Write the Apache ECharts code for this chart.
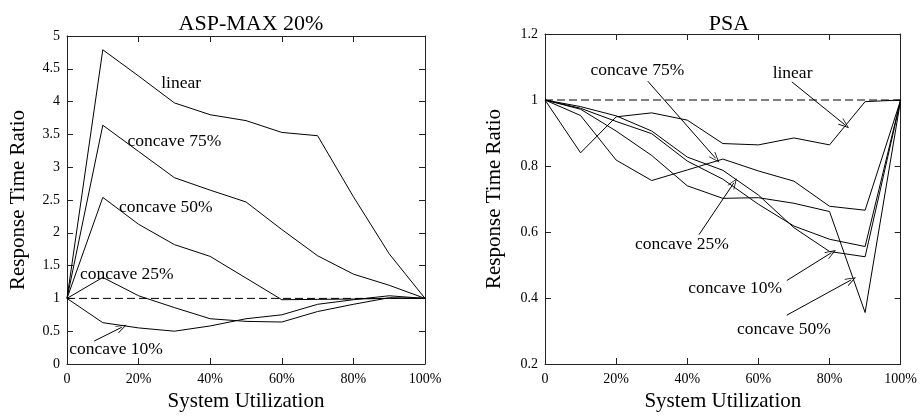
<!DOCTYPE html>
<html>
<head>
<meta charset="utf-8">
<script src="https://cdn.jsdelivr.net/npm/echarts@6/dist/echarts.min.js"></script>
<style>
html,body{margin:0;padding:0;background:#fff;}
#c{width:920px;height:417px;}
</style>
</head>
<body>
<div id="c"></div>
<script>
// ---------- data ----------
const utilization = [0, 10, 20, 30, 40, 50, 60, 70, 80, 90, 100];

// ASP-MAX 20%
const aspLinear = [1, 4.79, 4.39, 3.98, 3.80, 3.71, 3.53, 3.48, 2.55, 1.68, 1.0];
const aspConcave75 = [1, 3.64, 3.24, 2.84, 2.65, 2.47, 2.05, 1.65, 1.37, 1.20, 1.0];
const aspConcave50 = [1, 2.54, 2.13, 1.82, 1.64, 1.31, 0.98, 0.985, 0.99, 1.0, 1.0];
const aspConcave25 = [1, 1.32, 1.04, 0.86, 0.69, 0.65, 0.64, 0.80, 0.91, 1.01, 1.0];
const aspConcave10 = [1, 0.63, 0.55, 0.50, 0.58, 0.69, 0.75, 0.91, 0.98, 1.04, 1.0];

// PSA
const psaLinear = [1, 0.84, 0.949, 0.961, 0.939, 0.868, 0.864, 0.885, 0.864, 0.995, 1.0];
const psaConcave75 = [1, 0.953, 0.818, 0.756, 0.788, 0.821, 0.785, 0.754, 0.678, 0.666, 1.0];
const psaConcave50 = [1, 0.972, 0.906, 0.832, 0.740, 0.702, 0.704, 0.687, 0.662, 0.356, 1.0];
const psaConcave25 = [1, 0.975, 0.935, 0.898, 0.815, 0.760, 0.684, 0.618, 0.578, 0.556, 1.0];
const psaConcave10 = [1, 0.98, 0.952, 0.906, 0.827, 0.787, 0.712, 0.613, 0.541, 0.525, 1.0];

// reference line y = 1
const refX = [0, 100];
const refY = [1, 1];

// annotation labels (text, x, y) in data units
const aspLabelText = ['linear', 'concave 75%', 'concave 50%', 'concave 25%', 'concave 10%'];
const aspLabelX = [26.3, 16.9, 14.5, 3.6, 0.6];
const aspLabelY = [4.27, 3.40, 2.38, 1.36, 0.22];
// arrows (from -> to) in data units
const aspArrowFrom = [[7.6, 0.35]];
const aspArrowTo = [[15.3, 0.56]];

const psaLabelText = ['concave 75%', 'linear', 'concave 25%', 'concave 10%', 'concave 50%'];
const psaLabelX = [12.8, 64.0, 25.3, 40.3, 54.0];
const psaLabelY = [1.09, 1.081, 0.561, 0.43, 0.304];
const psaArrowFrom = [[69.4, 1.055], [28.9, 1.057], [43.3, 0.592], [68.0, 0.453], [68.0, 0.348]];
const psaArrowTo = [[84.3, 0.925], [48.0, 0.823], [53.1, 0.749], [80.5, 0.537], [86.1, 0.455]];

// ---------- chart ----------
const FONT = 'Liberation Serif';
const AXC = '#222';
const TICK = 6;

function pairs(xs, ys) { return xs.map((x, i) => [x, ys[i]]); }

function lineSeries(values, gi) {
  return {
    type: 'line', xAxisIndex: gi * 2, yAxisIndex: gi * 2,
    data: pairs(utilization, values), symbol: 'none', silent: true,
    lineStyle: { color: '#000', width: 1 }
  };
}

function refSeries(gi, arrowFrom, arrowTo) {
  return {
    type: 'line', xAxisIndex: gi * 2, yAxisIndex: gi * 2,
    data: pairs(refX, refY), symbol: 'none', silent: true,
    lineStyle: { color: '#000', width: 1, type: [8, 4] },
    markLine: {
      silent: true,
      symbol: ['none', 'path://M5,0 L10,10 L9,10 L5,2 L1,10 L0,10 Z'],
      symbolSize: [8, 11],
      label: { show: false },
      lineStyle: { color: '#000', width: 1, type: 'solid' },
      data: arrowFrom.map((f, i) => [{ coord: f }, { coord: arrowTo[i] }])
    }
  };
}

function labelSeries(gi, texts, xs, ys) {
  return {
    type: 'scatter', xAxisIndex: gi * 2, yAxisIndex: gi * 2,
    symbolSize: 0, silent: true,
    itemStyle: { opacity: 1, color: '#000' },
    data: texts.map((t, i) => ({ value: [xs[i], ys[i]], name: t })),
    label: {
      show: true, position: 'right', distance: 0,
      formatter: p => p.name,
      fontFamily: FONT, fontSize: 17.5, color: '#000', opacity: 1
    }
  };
}

function xAxes(gi) {
  const base = {
    gridIndex: gi, type: 'value', min: 0, max: 100, interval: 20,
    axisLine: { show: true, onZero: false, lineStyle: { color: AXC, width: 1 } },
    axisTick: { show: true, inside: true, length: TICK, lineStyle: { color: AXC } },
    splitLine: { show: false }
  };
  return [
    Object.assign({}, base, {
      position: 'bottom',
      axisLabel: {
        fontFamily: FONT, fontSize: 14, color: '#000', margin: 8,
        formatter: v => (v === 0 ? '0' : v + '%')
      },
      name: 'System Utilization', nameLocation: 'middle', nameGap: 27,
      nameTextStyle: { fontFamily: FONT, fontSize: 21, color: '#000' }
    }),
    Object.assign({}, base, { position: 'top', axisLabel: { show: false } })
  ];
}

function yAxes(gi, min, max, interval, fmt, gap) {
  const base = {
    gridIndex: gi, type: 'value', min: min, max: max, interval: interval,
    axisLine: { show: true, onZero: false, lineStyle: { color: AXC, width: 1 } },
    axisTick: { show: true, inside: true, length: TICK, lineStyle: { color: AXC } },
    splitLine: { show: false }
  };
  return [
    Object.assign({}, base, {
      position: 'left',
      axisLabel: { fontFamily: FONT, fontSize: 14, color: '#000', margin: 7, formatter: fmt },
      name: 'Response Time Ratio', nameLocation: 'middle', nameGap: gap,
      nameTextStyle: { fontFamily: FONT, fontSize: 21, color: '#000' }
    }),
    Object.assign({}, base, { position: 'right', axisLabel: { show: false } })
  ];
}

const chart = echarts.init(document.getElementById('c'), null, { renderer: 'canvas' });
chart.setOption({
  animation: false,
  backgroundColor: '#fff',
  title: [
    { text: 'ASP-MAX 20%', left: 246, top: 8, textAlign: 'center',
      textStyle: { fontFamily: FONT, fontSize: 22, fontWeight: 'normal', color: '#000' } },
    { text: 'PSA', left: 724, top: 8, textAlign: 'center',
      textStyle: { fontFamily: FONT, fontSize: 22, fontWeight: 'normal', color: '#000' } }
  ],
  grid: [
    { left: 67, top: 36, width: 358, height: 334 },
    { left: 545, top: 34, width: 358, height: 334 }
  ],
  xAxis: xAxes(0).concat(xAxes(1)),
  yAxis: yAxes(0, 0, 5, 0.5, v => String(+v.toFixed(1)), 38)
    .concat(yAxes(1, 0.2, 1.2, 0.2, v => String(+v.toFixed(1)), 40)),
  series: [
    refSeries(0, aspArrowFrom, aspArrowTo),
    lineSeries(aspLinear, 0),
    lineSeries(aspConcave75, 0),
    lineSeries(aspConcave50, 0),
    lineSeries(aspConcave25, 0),
    lineSeries(aspConcave10, 0),
    labelSeries(0, aspLabelText, aspLabelX, aspLabelY),
    refSeries(1, psaArrowFrom, psaArrowTo),
    lineSeries(psaLinear, 1),
    lineSeries(psaConcave75, 1),
    lineSeries(psaConcave50, 1),
    lineSeries(psaConcave25, 1),
    lineSeries(psaConcave10, 1),
    labelSeries(1, psaLabelText, psaLabelX, psaLabelY)
  ]
});
</script>
</body>
</html>
